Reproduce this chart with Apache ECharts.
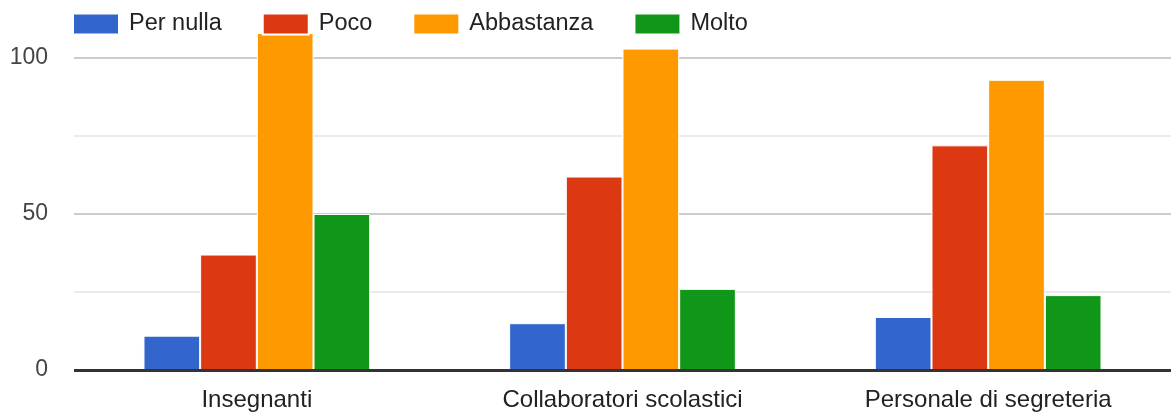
<!DOCTYPE html>
<html>
<head>
<meta charset="utf-8">
<script src="https://cdn.jsdelivr.net/npm/echarts@6/dist/echarts.min.js"></script>
<style>
html,body{margin:0;padding:0;background:#fff;}
#chart{width:1171px;height:414px;}
</style>
</head>
<body>
<div id="chart"></div>
<script>
const categories = ['Insegnanti', 'Collaboratori scolastici', 'Personale di segreteria'];
const seriesNames = ['Per nulla', 'Poco', 'Abbastanza', 'Molto'];
const perNulla = [11, 15, 17];
const poco = [37, 62, 72];
const abbastanza = [108, 103, 93];
const molto = [50, 26, 24];
const colors = ['#3366cc', '#dc3912', '#ff9900', '#109618'];

const values = [perNulla, poco, abbastanza, molto];
const font = '"Liberation Sans", Arial, sans-serif';

const chart = echarts.init(document.getElementById('chart'), null, {renderer: 'canvas'});
chart.setOption({
  animation: false,
  color: colors,
  textStyle: {fontFamily: font},
  legend: {
    left: 72,
    top: 12,
    padding: 0,
    itemWidth: 46,
    itemHeight: 21,
    itemGap: 40,
    icon: 'rect',
    textStyle: {fontSize: 23.5, color: '#222', fontFamily: font, padding: [0, 0, 0, 5]},
    data: seriesNames
  },
  grid: {left: 74, right: -3, top: 33, bottom: 44, containLabel: false},
  xAxis: {
    type: 'category',
    data: categories,
    axisLine: {show: false},
    axisTick: {show: false},
    axisLabel: {fontSize: 24, color: '#222', margin: 18, fontFamily: font}
  },
  yAxis: {
    type: 'value',
    min: 0,
    max: 108,
    interval: 50,
    axisLine: {show: false},
    axisTick: {show: false},
    axisLabel: {fontSize: 23, color: '#444', margin: 26, showMaxLabel: false, fontFamily: font},
    splitLine: {show: true, showMaxLine: false, lineStyle: {color: '#cccccc', width: 2}},
    minorTick: {show: false, splitNumber: 2},
    minorSplitLine: {show: true, lineStyle: {color: '#ebebeb', width: 2}}
  },
  series: seriesNames.map((name, i) => ({
    name: name,
    type: 'bar',
    data: values[i],
    barGap: '0%',
    barCategoryGap: '38%',
    itemStyle: {color: colors[i], borderColor: '#ffffff', borderWidth: 1},
    markLine: i === 0 ? {
      silent: true,
      symbol: 'none',
      label: {show: false},
      lineStyle: {color: '#333333', width: 3, type: 'solid'},
      data: [{yAxis: 0}]
    } : undefined
  }))
});
</script>
</body>
</html>
